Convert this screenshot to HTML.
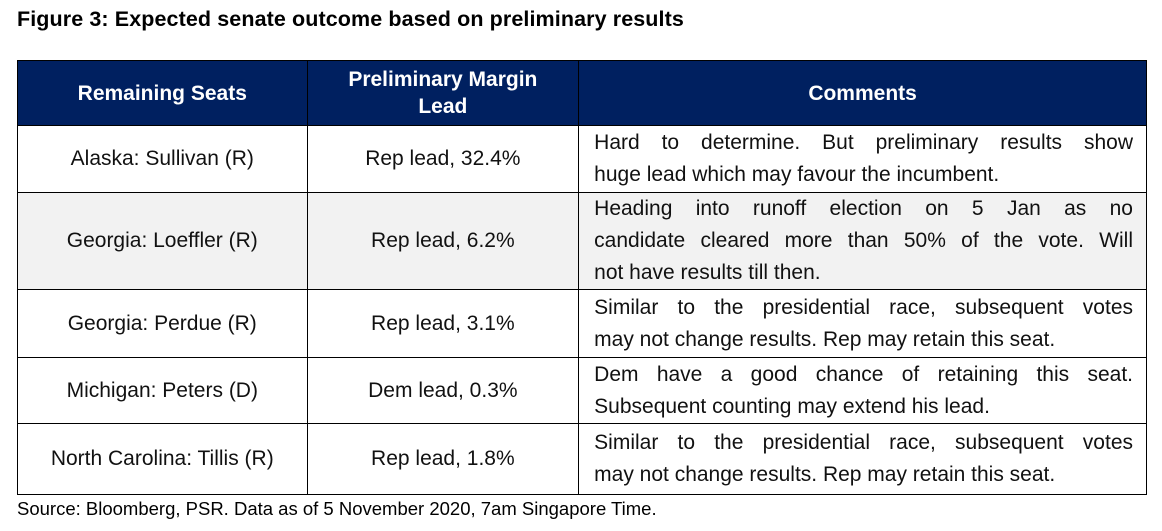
<!DOCTYPE html>
<html><head><meta charset="utf-8"><style>
body{margin:0;width:1162px;height:531px;background:#fff;font-family:"Liberation Sans",Calibri,sans-serif;position:relative;overflow:hidden}
#title{position:absolute;left:17px;top:7px;font-weight:bold;font-size:21.5px;color:#000;letter-spacing:0.1px}
table{position:absolute;left:17px;top:60px;border-collapse:collapse;width:1130px}
td,th{border:1.3px solid #000;font-size:21px;color:#111;padding:0}
th{background:#002060;color:#fff;font-weight:bold;height:64px;line-height:27px}
td.c{text-align:center}
td.m{padding:0 13px 0 15px;line-height:32px}
td.m div{text-align:justify;text-align-last:justify;white-space:nowrap;overflow:hidden}
td.m div.l{text-align-last:left}
tr.g td{background:#f2f2f2}
#src{position:absolute;left:17px;top:498px;font-size:18.5px;color:#000}
</style></head><body>
<div id="title">Figure 3: Expected senate outcome based on preliminary results</div>
<table>
<colgroup><col style="width:290px"><col style="width:272px"><col style="width:568px"></colgroup>
<tr>
<th>Remaining Seats</th>
<th>Preliminary Margin<br>Lead</th>
<th>Comments</th></tr>
<tr style="height:67px">
<td class="c">Alaska: Sullivan (R)</td>
<td class="c">Rep lead, 32.4%</td>
<td class="m"><div>Hard to determine. But preliminary results show</div><div class="l">huge lead which may favour the incumbent.</div></td></tr>
<tr class="g" style="height:97px">
<td class="c">Georgia: Loeffler (R)</td>
<td class="c">Rep lead, 6.2%</td>
<td class="m"><div>Heading into runoff election on 5 Jan as no</div><div>candidate cleared more than 50% of the vote. Will</div><div class="l">not have results till then.</div></td></tr>
<tr style="height:68px">
<td class="c">Georgia: Perdue (R)</td>
<td class="c">Rep lead, 3.1%</td>
<td class="m"><div>Similar to the presidential race, subsequent votes</div><div class="l">may not change results. Rep may retain this seat.</div></td></tr>
<tr style="height:66px">
<td class="c">Michigan: Peters (D)</td>
<td class="c">Dem lead, 0.3%</td>
<td class="m"><div>Dem have a good chance of retaining this seat.</div><div class="l">Subsequent counting may extend his lead.</div></td></tr>
<tr style="height:71px">
<td class="c">North Carolina: Tillis (R)</td>
<td class="c">Rep lead, 1.8%</td>
<td class="m"><div>Similar to the presidential race, subsequent votes</div><div class="l">may not change results. Rep may retain this seat.</div></td></tr>
</table>
<div id="src">Source: Bloomberg, PSR. Data as of 5 November 2020, 7am Singapore Time.</div>
</body></html>
